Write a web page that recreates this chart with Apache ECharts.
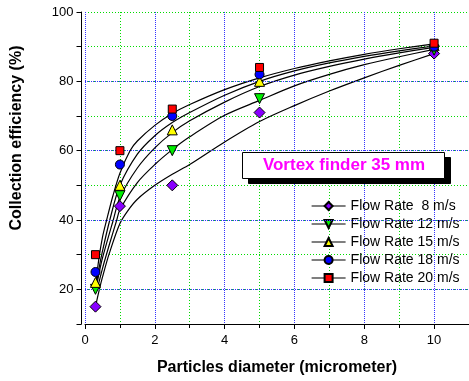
<!DOCTYPE html>
<html><head><meta charset="utf-8">
<script src="https://cdn.jsdelivr.net/npm/echarts@6/dist/echarts.min.js"></script>
<style>html,body{margin:0;padding:0;background:#fff}#c{width:469px;height:381px}</style>
</head><body><div id="c"></div>
<script>
// ---- data ----
const diameters = [0.3, 1, 2.5, 5, 10];
const seriesNames = ['Flow Rate  8 m/s', 'Flow Rate 12 m/s', 'Flow Rate 15 m/s', 'Flow Rate 18 m/s', 'Flow Rate 20 m/s'];
const rate8  = [15, 44, 50, 71, 88];
const rate12 = [20, 47, 60, 75, 89];
const rate15 = [22, 50, 66, 80, 90.3];
const rate18 = [25, 56, 70, 82, 90];
const rate20 = [30, 60, 72, 84, 91];
// fitted curves: [diameter, efficiency]
const fit8  = [[0.3,15],[0.4,19.5],[0.5,23.5],[0.7,30.5],[1,39],[1.25,43],[1.5,46],[2,50],[2.5,53.2],[3,56],[4,62.5],[5,68.4],[6,73],[7,77.2],[8,81],[9,84.6],[10,88]];
const fit12 = [[0.35,20],[0.5,26],[0.7,33],[0.91,40],[1,43],[1.5,50.8],[2,56],[2.5,60.3],[3,64],[4,70.2],[5,74.5],[6,78.7],[7,82],[8,84.8],[9,87.1],[10,89.2]];
const fit15 = [[0.32,20],[0.4,24.5],[0.5,29],[0.81,40],[1,46.5],[1.5,55],[2,60.8],[2.5,65.2],[3,68.6],[4,74],[5,78.5],[6,81.8],[7,84.3],[8,86.4],[9,88.2],[10,89.8]];
const fit18 = [[0.3,20],[0.4,26],[0.5,31],[0.71,40],[1,50],[1.5,59],[2,64.3],[2.5,68.1],[3,71],[4,76],[5,80],[6,83],[7,85.3],[8,87.2],[9,88.8],[10,90.2]];
const fit20 = [[0.3,21],[0.4,29],[0.5,35],[0.62,40],[0.8,47],[1,53.5],[1.29,60],[1.5,62.8],[2,67.3],[2.5,70.7],[3,73.3],[4,77.6],[5,81],[6,83.7],[7,85.9],[8,87.8],[9,89.4],[10,90.8]];
const xTickLabels = [0, 2, 4, 6, 8, 10];
const yTickLabels = [20, 40, 60, 80, 100];
const titleText = 'Vortex finder 35 mm';
const xTitle = 'Particles diameter (micrometer)';
const yTitle = 'Collection efficiency (%)';

// ---- styles ----
const FONT = "'Liberation Sans', Arial, sans-serif";
const markerStyles = [
  {symbol: 'diamond', size: 11, color: '#8800ff', rotate: 0},
  {symbol: 'triangle', size: 10, color: '#00ee00', rotate: 180},
  {symbol: 'triangle', size: 10, color: '#ffff00', rotate: 0},
  {symbol: 'circle', size: 9, color: '#0000ff', rotate: 0},
  {symbol: 'rect', size: 8, color: '#ff0000', rotate: 0}
];
const markerValues = [rate8, rate12, rate15, rate18, rate20];
const fits = [fit8, fit12, fit15, fit18, fit20];
const gridBlue = '#3333ff';
const gridGreen = '#00dd00';
const dottedBlue = [1, 1];
const dottedGreen = [1, 2];

const chart = echarts.init(document.getElementById('c'));
const series = [];
// blue major horizontal grid lines at the labelled y ticks
series.push({
  name: 'ymajor', type: 'line', data: [], silent: true, z: 1,
  markLine: {
    silent: true, symbol: ['none', 'none'], label: {show: false}, animation: false,
    lineStyle: {color: gridBlue, type: dottedBlue, width: 1},
    data: yTickLabels.filter(v => v < 100).map(v => ({yAxis: v}))
  }
});
fits.forEach((f, i) => {
  series.push({
    name: 'fit' + i, type: 'line', data: f, smooth: 0.3, showSymbol: false, symbol: 'none',
    lineStyle: {color: '#000', width: 1.2}, silent: true, z: 2, animation: false
  });
});
markerValues.forEach((vals, i) => {
  const m = markerStyles[i];
  series.push({
    name: seriesNames[i], type: 'line',
    data: diameters.map((d, k) => [d, vals[k]]),
    symbol: m.symbol, symbolSize: m.size, symbolRotate: m.rotate, showSymbol: true,
    itemStyle: {color: m.color, borderColor: '#000', borderWidth: 1},
    lineStyle: {width: 0, opacity: 0},
    z: 5, animation: false
  });
});

chart.setOption({
  animation: false,
  backgroundColor: '#fff',
  grid: {left: 85, top: 12, right: -1, bottom: 57, containLabel: false},
  xAxis: [{
    type: 'value', min: 0, max: 11, interval: 2,
    name: xTitle, nameLocation: 'middle', nameGap: 36,
    nameTextStyle: {fontFamily: FONT, fontWeight: 'bold', fontSize: 16, color: '#000'},
    axisLine: {show: true, onZero: false, lineStyle: {color: '#000', width: 1}},
    axisTick: {show: true, length: 5, lineStyle: {color: '#000'}},
    minorTick: {show: true, splitNumber: 2, length: 4, lineStyle: {color: '#000'}},
    axisLabel: {fontFamily: FONT, fontSize: 13, color: '#000', margin: 10, showMaxLabel: false,
      formatter: v => xTickLabels.includes(v) ? String(v) : ''},
    splitLine: {show: true, lineStyle: {color: gridBlue, type: dottedBlue, width: 1}},
    minorSplitLine: {show: true, lineStyle: {color: gridGreen, type: dottedGreen, width: 1}}
  }, {
    type: 'value', min: 0, max: 11, position: 'top',
    axisLine: {show: false}, axisTick: {show: false}, axisLabel: {show: false}, splitLine: {show: false}
  }],
  yAxis: {
    type: 'value', min: 10, max: 100, interval: 10, offset: 3.5,
    axisLine: {show: true, onZero: false, lineStyle: {color: '#000', width: 1}},
    axisTick: {show: true, length: 5, lineStyle: {color: '#000'}},
    axisLabel: {fontFamily: FONT, fontSize: 13, color: '#000', margin: 8,
      formatter: v => yTickLabels.includes(v) ? String(v) : ''},
    splitLine: {show: true, lineStyle: {color: gridGreen, type: dottedGreen, width: 1}}
  },
  legend: {
    data: seriesNames, orient: 'vertical', left: 306, top: 194,
    itemWidth: 34, itemHeight: 10, itemGap: 4,
    textStyle: {fontFamily: FONT, fontSize: 14, color: '#000'},
    lineStyle: {color: '#000', width: 1.2, opacity: 1},
    selectedMode: false
  },
  graphic: [
    {type: 'rect', left: 248, top: 157, shape: {width: 202, height: 26}, style: {fill: '#000'}, z: 10},
    {type: 'rect', left: 242, top: 152, shape: {width: 202, height: 26}, style: {fill: '#fff', stroke: '#000', lineWidth: 1}, z: 11},
    {type: 'text', x: 344, y: 165, z: 12, style: {text: titleText, fill: '#ff00ff', font: "bold 17px 'Liberation Sans', Arial, sans-serif", align: 'center', verticalAlign: 'middle'}},
    {type: 'text', x: 17, y: 138, rotation: Math.PI / 2, z: 12, style: {text: yTitle, fill: '#000', font: "bold 16px 'Liberation Sans', Arial, sans-serif", align: 'center', verticalAlign: 'middle'}}
  ],
  series: series
});

// top frame line and bottom axis stub reaching the offset y-axis line
const pTopLeft = chart.convertToPixel({gridIndex: 0}, [0, 100]);
const pBotLeft = chart.convertToPixel({gridIndex: 0}, [0, 10]);
const axisX = pTopLeft[0] - 3.5;
chart.setOption({
  graphic: [
    {type: 'line', z: 9, shape: {x1: axisX, y1: Math.round(pTopLeft[1]) + 0.5, x2: 469, y2: Math.round(pTopLeft[1]) + 0.5}, style: {stroke: '#000', lineWidth: 1}},
    {type: 'line', z: 9, shape: {x1: axisX - 5, y1: Math.round(pBotLeft[1]) + 0.5, x2: pBotLeft[0], y2: Math.round(pBotLeft[1]) + 0.5}, style: {stroke: '#000', lineWidth: 1}}
  ]
});
</script>
</body></html>
